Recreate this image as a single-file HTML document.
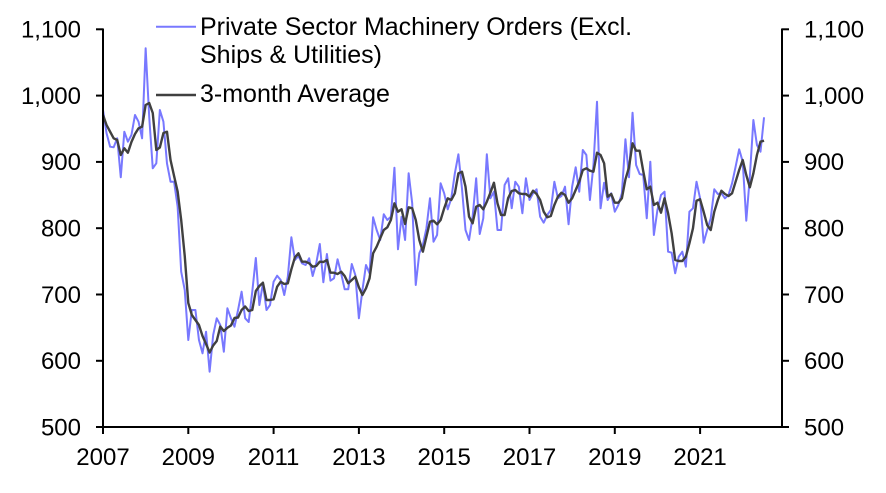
<!DOCTYPE html>
<html>
<head>
<meta charset="utf-8">
<style>
  html, body { margin:0; padding:0; background:#fff; }
  svg { display:block; }
  text { font-family: "Liberation Sans", Arial, sans-serif; font-size:24px; fill:#000; }
  text.lg { font-size:25px; }
</style>
</head>
<body>
<svg width="886" height="493" viewBox="0 0 886 493" xmlns="http://www.w3.org/2000/svg">
  <rect x="0" y="0" width="886" height="493" fill="#fff"/>

  <!-- data -->
  <g transform="translate(103,0) scale(3.554,1)">
    <polyline fill="none" stroke="#7878ff" stroke-width="2" stroke-linejoin="round" vector-effect="non-scaling-stroke"
      points="0,110 1,133.3 2,146.7 3,147.3 4,138.3 5,177.3 6,131.7 7,141.7 8,135 9,115 10,121.7 11,138.3 12,48.3 13,116.7 14,168.3 15,163.3 16,110 17,121.7 18,163.3 19,181.7 20,181.7 21,206.7 22,271.7 23,290 24,340 25,310 26,310 27,340 28,353.3 29,331.7 30,371.7 31,335 32,318.3 33,325 34,351.7 35,308.3 36,318.3 37,326.7 38,310 39,291.7 40,318.3 41,322 42,291.7 43,258 44,305 45,283.3 46,310 47,305 48,281.7 49,275.7 50,280 51,295 52,276.7 53,237.3 54,260 55,256 56,263.3 57,265 58,258.3 59,276 60,263.3 61,244 62,282.3 63,254 64,280.7 65,278.3 66,259.3 67,273.3 68,289.3 69,289.3 70,264 71,275 72,318.3 73,290 74,265 75,273.3 76,217.3 77,230 78,240 79,214.3 80,220 81,216.7 82,167.7 83,249.3 84,216.7 85,240 86,173.3 87,203.3 88,285 89,253.3 90,245 91,228.3 92,198.3 93,241.7 94,235 95,183.3 96,193.3 97,209.3 98,198.3 99,173.3 100,154.3 101,188.3 102,230 103,240 104,216.7 105,178.3 106,234 107,218.3 108,154.3 109,198.3 110,191.7 111,230 112,230 113,185 114,178.3 115,208.3 116,181.7 117,186.7 118,213.3 119,178.3 120,200 121,193.3 122,189.3 123,216.7 124,222.7 125,215 126,210 127,181.7 128,198.3 129,196 130,186.7 131,224.3 132,186.7 133,167.3 134,191.7 135,150 136,155 137,200 138,165 139,101.7 140,208.3 141,182.7 142,200 143,193.3 144,211.7 145,205 146,193.3 147,139.3 148,177.3 149,112.7 150,165 151,174 152,175 153,218.3 154,161.7 155,235 156,210 157,195 158,191.7 159,251.7 160,252.7 161,273.3 162,256.7 163,251.7 164,266.7 165,211.7 166,208.3 167,181.7 168,198.3 169,242.7 170,230 171,218.3 172,189.3 173,194 174,193.3 175,198.3 176,195 177,183.3 178,166.7 179,149.3 180,161.7 181,220.7 182,176.7 183,120 184,145 185,151.7 186,117.3"/>
    <polyline fill="none" stroke="#404040" stroke-width="2.4" stroke-linejoin="round" vector-effect="non-scaling-stroke"
      points="0,115 1,125 2,131.7 3,138.3 4,140 5,155 6,148.3 7,152.7 8,142 9,134 10,128.3 11,126.7 12,105 13,103 14,113 15,150 16,147.5 17,133 18,131.7 19,160 20,176 21,191.5 22,220 23,256 24,303 25,315 26,320 27,325 28,336 29,344 30,352.5 31,345.5 32,341 33,326.5 34,331 35,327.8 36,325.5 37,318 38,317.5 39,310 40,306.5 41,311 42,310 43,291 44,286 45,282.7 46,300 47,300 48,299.3 49,286.7 50,281.7 51,284 52,283.3 53,269.3 54,257.3 55,253.3 56,261.7 57,261.7 58,263.3 59,266.7 60,266 61,261.7 62,262 63,260 64,272.7 65,272.7 66,274 67,271.7 68,276 69,283.3 70,280 71,276.7 72,287.3 73,295 74,288.3 75,278.3 76,253.3 77,246.7 78,238.3 79,230 80,227.3 81,220 82,203.3 83,211.7 84,209.3 85,224 86,207.3 87,208.3 88,220 89,240 90,251.7 91,236.7 92,221.7 93,220.7 94,224.3 95,220 96,208.3 97,198.3 98,200 99,193.3 100,173.3 101,171.7 102,186.7 103,216.7 104,223.3 105,206.7 106,205 107,209.3 108,201.7 109,192.7 110,182.7 111,203.3 112,215 113,215 114,198 115,191 116,190 117,193.3 118,194 119,194 120,196.7 121,190.7 122,194 123,200 124,211.7 125,217.3 126,216 127,205 128,196.7 129,192.7 130,195 131,202.7 132,198.3 133,190 134,181.7 135,170 136,168.3 137,170.7 138,171.7 139,152.7 140,155 141,163.3 142,196.7 143,194 144,202.7 145,202.7 146,198.3 147,179.3 148,167.3 149,143.3 150,150.7 151,150.7 152,171 153,189.3 154,186.7 155,205 156,202.7 157,212.7 158,198.3 159,213.3 160,233.3 161,260 162,261 163,261 164,256.7 165,243.3 166,228.3 167,200.7 168,199.3 169,211.7 170,225 171,230 172,211.7 173,200 174,190.7 175,194 176,196 177,193.3 178,181.7 179,170 180,160 181,175 182,187.3 183,173.3 184,155 185,141.7 186,140.7"/>
  </g>

  <!-- axes -->
  <g stroke="#000" stroke-width="2" fill="none">
    <line x1="103" y1="28.5" x2="103" y2="428"/>
    <line x1="782" y1="28.5" x2="782" y2="428"/>
    <line x1="102" y1="427" x2="783" y2="427"/>
    <line x1="96" y1="29.3" x2="103" y2="29.3"/>
    <line x1="96" y1="95.6" x2="103" y2="95.6"/>
    <line x1="96" y1="161.9" x2="103" y2="161.9"/>
    <line x1="96" y1="228.2" x2="103" y2="228.2"/>
    <line x1="96" y1="294.5" x2="103" y2="294.5"/>
    <line x1="96" y1="360.8" x2="103" y2="360.8"/>
    <line x1="96" y1="427" x2="103" y2="427"/>
    <line x1="782" y1="29.3" x2="789" y2="29.3"/>
    <line x1="782" y1="95.6" x2="789" y2="95.6"/>
    <line x1="782" y1="161.9" x2="789" y2="161.9"/>
    <line x1="782" y1="228.2" x2="789" y2="228.2"/>
    <line x1="782" y1="294.5" x2="789" y2="294.5"/>
    <line x1="782" y1="360.8" x2="789" y2="360.8"/>
    <line x1="782" y1="427" x2="789" y2="427"/>
    <line x1="103" y1="427" x2="103" y2="434"/>
    <line x1="188.3" y1="427" x2="188.3" y2="434"/>
    <line x1="273.6" y1="427" x2="273.6" y2="434"/>
    <line x1="358.9" y1="427" x2="358.9" y2="434"/>
    <line x1="444.2" y1="427" x2="444.2" y2="434"/>
    <line x1="529.5" y1="427" x2="529.5" y2="434"/>
    <line x1="614.8" y1="427" x2="614.8" y2="434"/>
    <line x1="700.1" y1="427" x2="700.1" y2="434"/>
  </g>

  <!-- left labels -->
  <g text-anchor="end">
    <text x="81" y="37.6">1,100</text>
    <text x="81" y="103.9">1,000</text>
    <text x="81" y="170.2">900</text>
    <text x="81" y="236.5">800</text>
    <text x="81" y="302.8">700</text>
    <text x="81" y="369.1">600</text>
    <text x="81" y="435.3">500</text>
  </g>
  <!-- right labels -->
  <g text-anchor="start">
    <text x="804" y="37.6">1,100</text>
    <text x="804" y="103.9">1,000</text>
    <text x="804" y="170.2">900</text>
    <text x="804" y="236.5">800</text>
    <text x="804" y="302.8">700</text>
    <text x="804" y="369.1">600</text>
    <text x="804" y="435.3">500</text>
  </g>
  <!-- bottom labels -->
  <g text-anchor="middle">
    <text x="103" y="465">2007</text>
    <text x="188.3" y="465">2009</text>
    <text x="273.6" y="465">2011</text>
    <text x="358.9" y="465">2013</text>
    <text x="444.2" y="465">2015</text>
    <text x="529.5" y="465">2017</text>
    <text x="614.8" y="465">2019</text>
    <text x="700.1" y="465">2021</text>
  </g>

  <!-- legend -->
  <line x1="156" y1="26.7" x2="196" y2="26.7" stroke="#7878ff" stroke-width="2"/>
  <text class="lg" x="200" y="35">Private Sector Machinery Orders (Excl.</text>
  <text class="lg" x="200" y="63">Ships &amp; Utilities)</text>
  <line x1="156" y1="95" x2="196" y2="95" stroke="#404040" stroke-width="2.4"/>
  <text class="lg" x="200" y="102">3-month Average</text>
</svg>
</body>
</html>
